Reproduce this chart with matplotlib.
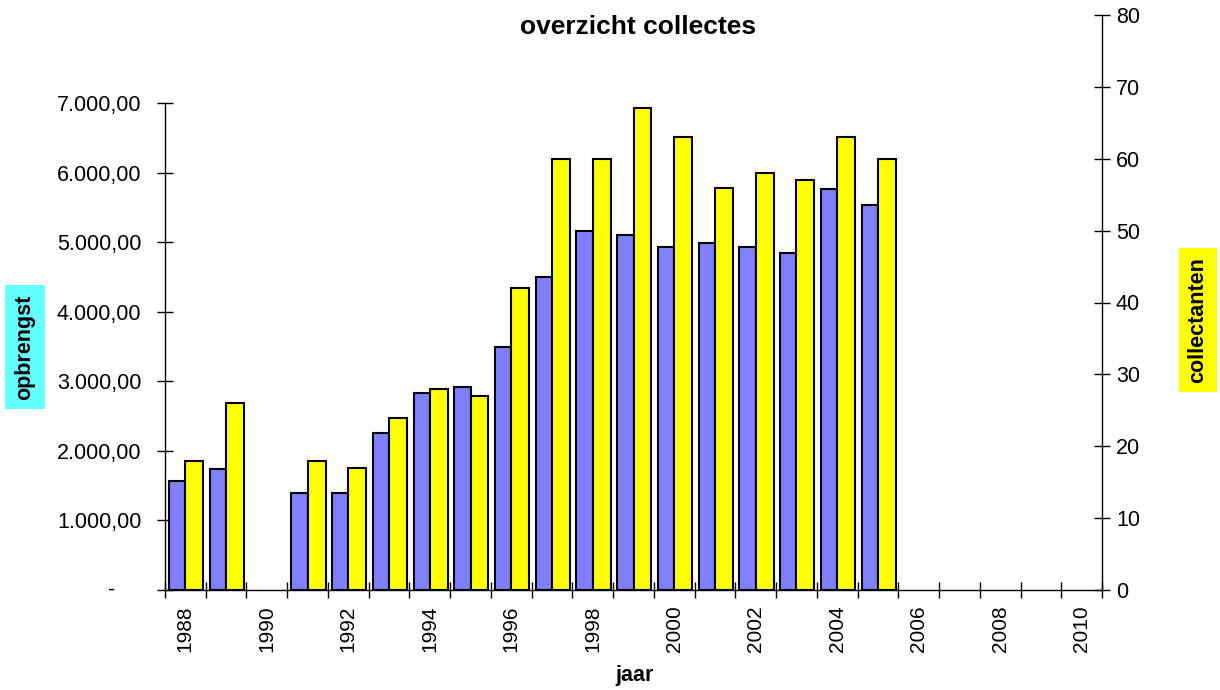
import matplotlib
matplotlib.use("Agg")
import matplotlib.pyplot as plt
from matplotlib.ticker import FuncFormatter, FixedLocator
from matplotlib.transforms import offset_copy
import numpy as np

plt.rcParams['font.family'] = ['Liberation Sans', 'DejaVu Sans']

years = [1988, 1989, 1990, 1991, 1992, 1993, 1994, 1995, 1996, 1997, 1998, 1999,
         2000, 2001, 2002, 2003, 2004, 2005, 2006, 2007, 2008, 2009, 2010]
opbrengst = [1567, 1735, None, 1390, 1390, 2252, 2832, 2913, 3493, 4499, 5160, 5098,
             4930, 4983, 4930, 4840, 5760, 5530, None, None, None, None, None]
collectanten = [18, 26, None, 18, 17, 24, 28, 27, 42, 60, 60, 67,
                63, 56, 58, 57, 63, 60, None, None, None, None, None]
left_ticks = [0, 1000, 2000, 3000, 4000, 5000, 6000, 7000]
right_ticks = [0, 10, 20, 30, 40, 50, 60, 70, 80]

W, H = 1220, 690
fig = plt.figure(figsize=(W / 100, H / 100), dpi=100)

x0, x1 = 165, 1102
ybot = 590
ax1 = fig.add_axes([x0 / W, (H - ybot) / H, (x1 - x0) / W, (ybot - 103) / H])
ax2 = fig.add_axes([x0 / W, (H - ybot) / H, (x1 - x0) / W, (ybot - 15) / H])
ax2.patch.set_visible(False)

n = len(years)
idx = np.arange(n)
bw_blue = 0.40
bw_yel = 0.44

bx = [i for i, v in zip(idx, opbrengst) if v is not None]
bv = [v for v in opbrengst if v is not None]
yx = [i for i, v in zip(idx, collectanten) if v is not None]
yv = [v for v in collectanten if v is not None]

ax1.bar(np.array(bx) - bw_blue, bv, width=bw_blue, align='edge', color='#8080FF',
        edgecolor='black', linewidth=1.5, zorder=3)
ax2.bar(np.array(yx), yv, width=bw_yel, align='edge', color='#FFFF00',
        edgecolor='black', linewidth=1.5, zorder=3)

for ax in (ax1, ax2):
    ax.set_xlim(-0.5, n - 0.5)

ax1.set_ylim(0, 7000)
ax2.set_ylim(0, 80)

for s in ['top', 'right']:
    ax1.spines[s].set_visible(False)
for s in ['top', 'left', 'bottom']:
    ax2.spines[s].set_visible(False)
for ax in (ax1, ax2):
    for s in ax.spines.values():
        s.set_linewidth(1.0)

# x ticks: marks at category boundaries, labels at centers of even years
ax1.xaxis.set_major_locator(FixedLocator(list(idx - 0.5) + [n - 0.5]))
ax1.xaxis.set_major_formatter(FuncFormatter(lambda v, p: ''))
lab_pos = [i for i, y in zip(idx, years) if y % 2 == 0]
lab_txt = [str(y) for y in years if y % 2 == 0]
ax1.set_xticks(lab_pos, minor=True)
ax1.set_xticklabels(lab_txt, minor=True, rotation=90)
ax1.tick_params(axis='x', which='major', direction='inout', length=11, width=1)
ax1.tick_params(axis='x', which='minor', length=0, pad=11, labelsize=15)

ax2.set_xticks([])

def fmt_left(v, p):
    if v == 0:
        return ''
    s = f"{v:,.2f}"
    return s.replace(',', 'X').replace('.', ',').replace('X', '.')

ax1.set_yticks(left_ticks)
ax1.yaxis.set_major_formatter(FuncFormatter(fmt_left))
ax1.tick_params(axis='y', direction='inout', length=12, width=1, labelsize=15.5, pad=11)

# zero label of the accounting format ("-"), set further left like the original
zero_tr = offset_copy(ax1.get_yaxis_transform(), fig=fig, x=-53, y=0, units='dots')
ax1.text(0, left_ticks[0], '-', transform=zero_tr, ha='center', va='center',
         fontsize=15.5)

ax2.yaxis.tick_right()
ax2.set_yticks(right_ticks)
ax2.tick_params(axis='y', direction='inout', length=12, width=1, labelsize=15.5, pad=4,
                right=True, left=False, labelright=True, labelleft=False)

fig.text(638 / W, 1 - 27 / H, 'overzicht collectes', ha='center', va='center',
         fontsize=19, fontweight='bold')
fig.text(635 / W, 1 - 675 / H, 'jaar', ha='center', va='center',
         fontsize=15.5, fontweight='bold')
fig.text(25 / W, 1 - 347 / H, 'opbrengst', ha='center', va='center', rotation=90,
         fontsize=15.5, fontweight='bold',
         bbox=dict(boxstyle='square,pad=0.45', facecolor='#66FFFF', edgecolor='none'))
fig.text(1198 / W, 1 - 320 / H, 'collectanten', ha='center', va='center', rotation=90,
         fontsize=15.5, fontweight='bold',
         bbox=dict(boxstyle='square,pad=0.4', facecolor='#FFFF00', edgecolor='none'))

fig.savefig('out.png', dpi=100)
